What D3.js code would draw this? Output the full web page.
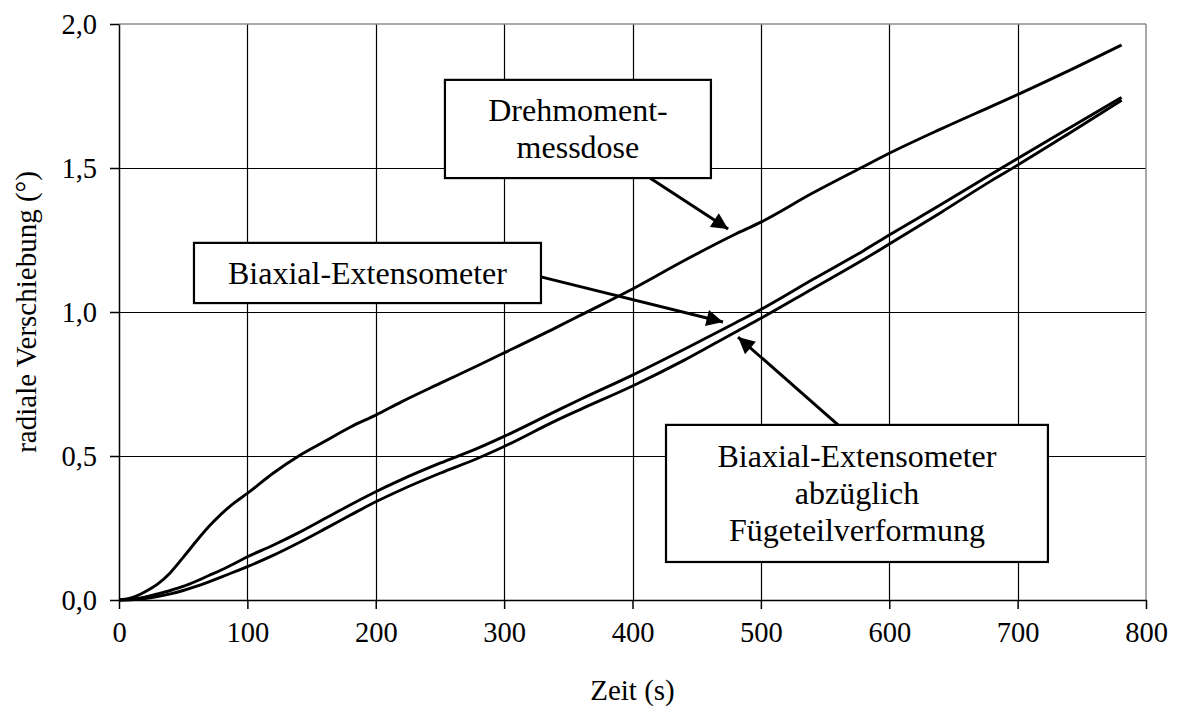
<!DOCTYPE html>
<html>
<head>
<meta charset="utf-8">
<script src="https://cdn.jsdelivr.net/npm/d3@7"></script>
<style>
  html, body { margin: 0; padding: 0; background: #fff; }
  svg { display: block; font-family: "Liberation Serif", "Times New Roman", serif; }
</style>
</head>
<body>
<svg id="chart" width="1178" height="708"></svg>
<script>
// Zeit in Sekunden
const zeit = [0, 10, 20, 30, 40, 50, 60, 70, 80, 90, 100, 120, 140, 160, 180, 200, 220, 250, 280, 300,
              340, 360, 400, 440, 480, 500, 540, 580, 600, 640, 680, 700, 740, 781];

// radiale Verschiebung (°) je Messverfahren
const drehmomentmessdose = [0, 0.008, 0.028, 0.055, 0.095, 0.148, 0.203, 0.255, 0.30, 0.338, 0.37, 0.44, 0.5, 0.55,
              0.6, 0.642, 0.688, 0.752, 0.815, 0.858, 0.945, 0.99, 1.08, 1.178, 1.27, 1.312, 1.412, 1.505,
              1.551, 1.635, 1.715, 1.755, 1.838, 1.927];
const biaxialExtensometer = [0, 0.003, 0.01, 0.021, 0.033, 0.047, 0.065, 0.085, 0.105, 0.127, 0.15, 0.19, 0.234, 0.282,
              0.33, 0.376, 0.418, 0.475, 0.528, 0.568, 0.655, 0.698, 0.781, 0.87, 0.962, 1.009, 1.112, 1.213,
              1.267, 1.372, 1.48, 1.533, 1.638, 1.745];
const biaxialAbzueglich = [0, 0.001, 0.005, 0.012, 0.021, 0.033, 0.047, 0.063, 0.08, 0.098, 0.116, 0.155, 0.199, 0.246,
              0.294, 0.341, 0.383, 0.44, 0.493, 0.533, 0.622, 0.663, 0.743, 0.832, 0.93, 0.978, 1.08, 1.182,
              1.236, 1.345, 1.457, 1.51, 1.62, 1.735];

const xTicks = [0, 100, 200, 300, 400, 500, 600, 700, 800];
const yTicks = [0, 0.5, 1.0, 1.5, 2.0];
const yTickLabels = ["0,0", "0,5", "1,0", "1,5", "2,0"];

// Beschriftungskästen (in Datenkoordinaten) mit Pfeilen
const annotations = [
  { lines: ["Drehmoment-", "messdose"], box: [253.9, 1.806, 461.1, 1.465],
    arrow: [[413.6, 1.465], [474.5, 1.288]] },
  { lines: ["Biaxial-Extensometer"], box: [58.4, 1.240, 328.7, 1.031],
    arrow: [[328.7, 1.122], [470.5, 0.965]] },
  { lines: ["Biaxial-Extensometer", "abzüglich", "Fügeteilverformung"], box: [426.1, 0.608, 723.6, 0.132],
    arrow: [[560.1, 0.608], [482.2, 0.913]] }
];

const svg = d3.select("#chart");
const margin = { left: 119, right: 1178 - 1146, top: 24, bottom: 708 - 600 };
const W = 1178, H = 708;

const x = d3.scaleLinear().domain([0, 800]).range([margin.left, W - margin.right]);
const y = d3.scaleLinear().domain([0, 2]).range([H - margin.bottom, margin.top]);

// Gitternetz (1 px, auf Pixelraster ausgerichtet)
const snap = v => Math.round(v) + 0.5;
const grid = svg.append("g");
grid.selectAll("line.v").data(xTicks.slice(1, -1)).enter().append("line")
  .attr("x1", d => snap(x(d))).attr("x2", d => snap(x(d)))
  .attr("y1", y(0)).attr("y2", y(2))
  .attr("stroke", "#000").attr("stroke-width", 1.2);
grid.selectAll("line.h").data(yTicks.slice(1, -1)).enter().append("line")
  .attr("x1", x(0)).attr("x2", x(800))
  .attr("y1", d => snap(y(d))).attr("y2", d => snap(y(d)))
  .attr("stroke", "#000").attr("stroke-width", 1.2);

// oberer und rechter Rahmen
svg.append("line").attr("x1", x(0)).attr("x2", x(800)).attr("y1", y(2)).attr("y2", y(2))
  .attr("stroke", "#8c8c8c").attr("stroke-width", 1.5);
svg.append("line").attr("x1", x(800)).attr("x2", x(800)).attr("y1", y(2)).attr("y2", y(0))
  .attr("stroke", "#8c8c8c").attr("stroke-width", 1.5);

// Achsen
const xAxis = svg.append("g").attr("transform", `translate(0,${y(0)})`)
  .call(d3.axisBottom(x).tickValues(xTicks).tickSize(9).tickSizeOuter(0).tickPadding(12));
const yAxis = svg.append("g").attr("transform", `translate(${x(0)},0)`)
  .call(d3.axisLeft(y).tickValues(yTicks).tickSize(9).tickSizeOuter(0).tickPadding(13)
    .tickFormat((d, i) => yTickLabels[i]));
[xAxis, yAxis].forEach(g => {
  g.select(".domain").attr("stroke", "#000").attr("stroke-width", 1.5);
  g.selectAll(".tick line").attr("stroke", "#000").attr("stroke-width", 1.5);
  g.selectAll(".tick text").attr("fill", "#000")
    .style("font-family", "'Liberation Serif', 'Times New Roman', serif").style("font-size", "28.5px");
});
xAxis.selectAll(".tick text").attr("dy", "0.75em");
yAxis.selectAll(".tick text").attr("dy", "0.34em");

// Achsentitel
svg.append("text").attr("x", (x(0) + x(800)) / 2).attr("y", 700)
  .attr("text-anchor", "middle").style("font-size", "29px").text("Zeit (s)");
svg.append("text")
  .attr("transform", `translate(36,${(y(0) + y(2)) / 2}) rotate(-90)`)
  .attr("text-anchor", "middle").style("font-size", "29px").text("radiale Verschiebung (°)");

// Messkurven
const series = [drehmomentmessdose, biaxialExtensometer, biaxialAbzueglich];
const line = d3.line().x((d, i) => x(zeit[i])).y(d => y(d)).curve(d3.curveMonotoneX);
svg.append("g").selectAll("path").data(series).enter().append("path")
  .attr("d", line).attr("fill", "none").attr("stroke", "#000")
  .attr("stroke-width", 2.9).attr("stroke-linejoin", "round");

// Pfeilspitze
svg.append("defs").append("marker")
  .attr("id", "arrowhead").attr("viewBox", "0 0 10 10")
  .attr("refX", 10).attr("refY", 5)
  .attr("markerWidth", 6.5).attr("markerHeight", 5.5).attr("markerUnits", "strokeWidth")
  .attr("orient", "auto")
  .append("path").attr("d", "M0,0 L10,5 L0,10 Z").attr("fill", "#000");

const ann = svg.append("g");
annotations.forEach(a => {
  const [t0, v0, t1, v1] = a.box;
  const bx = x(t0), by = y(v0), bw = x(t1) - x(t0), bh = y(v1) - y(v0);
  ann.append("line")
    .attr("x1", x(a.arrow[0][0])).attr("y1", y(a.arrow[0][1]))
    .attr("x2", x(a.arrow[1][0])).attr("y2", y(a.arrow[1][1]))
    .attr("stroke", "#000").attr("stroke-width", 3)
    .attr("marker-end", "url(#arrowhead)");
  ann.append("rect").attr("x", bx).attr("y", by).attr("width", bw).attr("height", bh)
    .attr("fill", "#fff").attr("stroke", "#000").attr("stroke-width", 2.2);
  const lh = 37;
  const firstBase = by + bh / 2 - (a.lines.length - 1) * lh / 2 + 11;
  a.lines.forEach((s, i) => {
    ann.append("text").attr("x", bx + bw / 2).attr("y", firstBase + i * lh)
      .attr("text-anchor", "middle").style("font-size", "32px").text(s);
  });
});
</script>
</body>
</html>
